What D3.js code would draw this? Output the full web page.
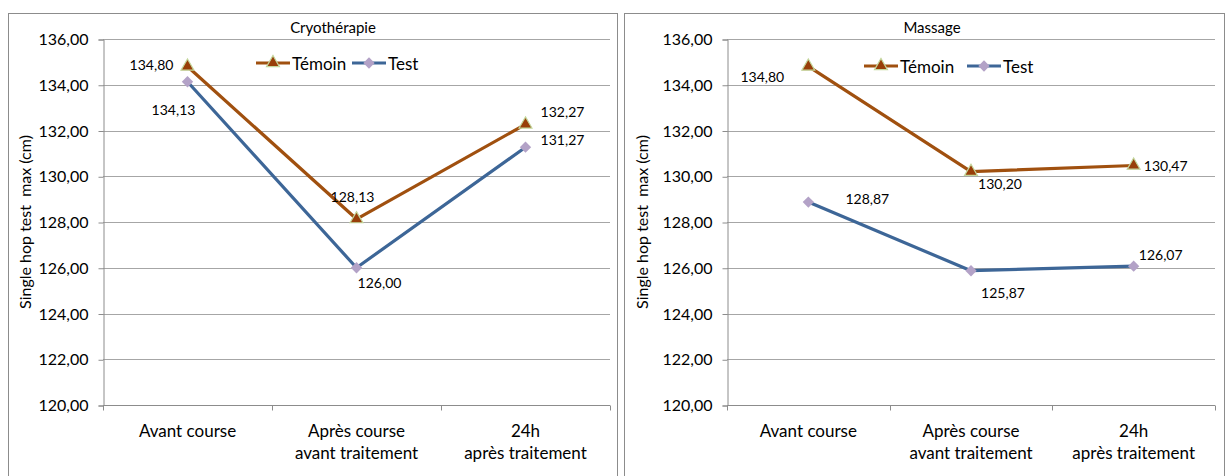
<!DOCTYPE html>
<html>
<head>
<meta charset="utf-8">
<script src="https://cdn.jsdelivr.net/npm/d3@7"></script>
<style>
  html, body { margin: 0; padding: 0; background: #fff; }
  svg { display: block; font-family: Lato, "Open Sans", sans-serif; }
</style>
</head>
<body>
<svg id="chart" width="1229" height="476"></svg>
<script>
// Categories along the x axis (two-line labels)
const categories = ["Avant course", "Après course\navant traitement", "24h\naprès traitement"];
const seriesNames = ["Témoin", "Test"];
const yTicks = [120, 122, 124, 126, 128, 130, 132, 134, 136];

// Cryothérapie panel values
const cryoTemoin = [134.80, 128.13, 132.27];
const cryoTest = [134.13, 126.00, 131.27];

// Massage panel values
const massTemoin = [134.80, 130.20, 130.47];
const massTest = [128.87, 125.87, 126.07];

// Label offsets relative to each point (dx, dy), per panel and series
const cryoLabelOffsets = [
  [[-36, -2], [-4, -23], [37, -13]],
  [[-14, 28], [23, 15], [37, -8]]
];
const massLabelOffsets = [
  [[-46, 10], [29, 12], [32, 0]],
  [[59, -4], [32, 22], [27, -12]]
];

const colors = { "Témoin": "#a0500f", "Test": "#3d6697" };
const fmt = d3.formatLocale({ decimal: ",", thousands: " ", grouping: [3], currency: ["", "€"] }).format(".2f");

const svg = d3.select("#chart");

function drawPanel(opt) {
  const g = svg.append("g");
  // outer chart frame
  g.append("rect")
    .attr("x", opt.frame[0] + 0.5).attr("y", 13.5)
    .attr("width", opt.frame[1] - opt.frame[0]).attr("height", 480)
    .attr("fill", "#fff").attr("stroke", "#8c8c8c").attr("stroke-width", 1);

  const x = d3.scaleBand().domain(categories).range([opt.plot[0], opt.plot[1]]);
  const y = d3.scaleLinear().domain([120, 136]).range([405, 39]);

  // horizontal gridlines
  g.append("g").selectAll("line").data(yTicks.slice(1)).join("line")
    .attr("x1", opt.plot[0]).attr("x2", opt.plot[1])
    .attr("y1", d => Math.round(y(d)) + 0.5).attr("y2", d => Math.round(y(d)) + 0.5)
    .attr("stroke", "#a6a6a6").attr("stroke-width", 1);

  // y axis
  const yAxis = g.append("g")
    .attr("transform", `translate(${opt.plot[0] + 0.5},0.5)`)
    .call(d3.axisLeft(y).tickValues(yTicks).tickFormat(fmt).tickSize(5).tickPadding(10));
  yAxis.select(".domain").attr("stroke", "#8c8c8c");
  yAxis.selectAll(".tick line").attr("stroke", "#8c8c8c");
  yAxis.selectAll(".tick text").attr("font-size", 16).attr("fill", "#000")
    .attr("font-family", "Lato, sans-serif");

  // x axis: baseline with ticks at category boundaries
  const xg = g.append("g").attr("transform", `translate(0,${Math.round(y(120)) + 0.5})`);
  xg.append("line").attr("x1", opt.plot[0]).attr("x2", opt.plot[1])
    .attr("stroke", "#8c8c8c");
  const bounds = categories.map(c => x(c)).concat([opt.plot[1]]);
  xg.selectAll("line.tk").data(bounds).join("line").attr("class", "tk")
    .attr("x1", d => Math.round(d) + 0.5).attr("x2", d => Math.round(d) + 0.5)
    .attr("y1", 0).attr("y2", 5).attr("stroke", "#8c8c8c");
  xg.selectAll("text.cat").data(categories).join("text").attr("class", "cat")
    .attr("x", d => x(d) + x.bandwidth() / 2)
    .attr("text-anchor", "middle").attr("font-size", 17).attr("fill", "#000")
    .each(function (d) {
      const lines = d.split("\n");
      const t = d3.select(this);
      lines.forEach((ln, i) => {
        t.append("tspan").attr("x", x(d) + x.bandwidth() / 2)
          .attr("y", 31 + i * 22).text(ln);
      });
    });

  // y axis title
  g.append("text")
    .attr("transform", `translate(${opt.yTitleX},${(y(120) + y(136)) / 2}) rotate(-90)`)
    .attr("text-anchor", "middle").attr("dominant-baseline", "central")
    .attr("font-size", 16).attr("fill", "#000")
    .attr("xml:space", "preserve")
    .text("Single hop test  max (cm)");

  // panel title
  g.append("text").attr("x", opt.titleX).attr("y", 33)
    .attr("text-anchor", "middle").attr("font-size", 15).attr("fill", "#000")
    .text(opt.title);

  const cx = c => x(c) + x.bandwidth() / 2;
  const triangle = d3.symbol().type(d3.symbolTriangle).size(72);
  const diamond = d3.symbol().type(d3.symbolSquare).size(64);

  function marker(sel, name) {
    if (name === "Témoin") {
      sel.append("path").attr("d", triangle).attr("fill", "#983e09")
        .attr("stroke", "#c3d69b").attr("stroke-width", 1.2);
    } else {
      sel.append("path").attr("d", diamond).attr("transform", "rotate(45)")
        .attr("fill", "#b3a2c7");
    }
  }

  const line = d3.line().x((d, i) => cx(categories[i])).y(d => y(d));
  // draw Test first so Témoin sits on top
  [1, 0].forEach(si => {
    const name = seriesNames[si];
    g.append("path").datum(opt.series[si]).attr("d", line)
      .attr("fill", "none").attr("stroke", colors[name]).attr("stroke-width", 3.2)
      .attr("stroke-linejoin", "round");
  });
  [1, 0].forEach(si => {
    const name = seriesNames[si];
    opt.series[si].forEach((v, i) => {
      g.append("g").attr("transform", `translate(${cx(categories[i])},${y(v)})`)
        .call(marker, name);
      const off = opt.offsets[si][i];
      g.append("text").attr("x", cx(categories[i]) + off[0]).attr("y", y(v) + off[1])
        .attr("text-anchor", "middle").attr("dominant-baseline", "central")
        .attr("font-size", 14).attr("fill", "#000").text(fmt(v));
    });
  });

  // legend
  const lg = g.append("g").attr("transform", `translate(${opt.legend[0]},${opt.legend[1]})`);
  seriesNames.forEach((name, i) => {
    const ox = i === 0 ? 0 : opt.legendGap;
    lg.append("line").attr("x1", ox).attr("x2", ox + 34).attr("y1", 0).attr("y2", 0)
      .attr("stroke", colors[name]).attr("stroke-width", 3.2);
    lg.append("g").attr("transform", `translate(${ox + 17},0)`).call(marker, name);
    lg.append("text").attr("x", ox + 36).attr("y", 0).attr("dominant-baseline", "central")
      .attr("font-size", 17).attr("fill", "#000").text(name);
  });
}

drawPanel({
  title: "Cryothérapie", titleX: 333,
  frame: [8, 617], plot: [103, 610], yTitleX: 24,
  series: [cryoTemoin, cryoTest], offsets: cryoLabelOffsets,
  legend: [256, 63], legendGap: 96
});
drawPanel({
  title: "Massage", titleX: 932,
  frame: [624, 1224], plot: [727, 1215], yTitleX: 641,
  series: [massTemoin, massTest], offsets: massLabelOffsets,
  legend: [864, 66], legendGap: 103
});
</script>
</body>
</html>
